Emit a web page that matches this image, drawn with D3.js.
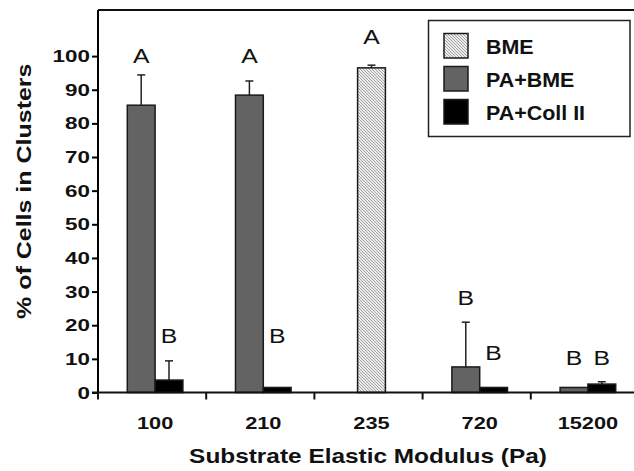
<!DOCTYPE html>
<html>
<head>
<meta charset="utf-8">
<script src="https://cdn.jsdelivr.net/npm/d3@7"></script>
<style>
  body { margin: 0; background: #fff; }
  svg { display: block; font-family: Arial, "Liberation Sans", sans-serif; }
</style>
</head>
<body>
<svg id="chart" width="634" height="471"></svg>
<script>
// ------------ DATA -----------------

const categories = ["100", "210", "235", "720", "15200"];
const seriesNames = ["BME", "PA+BME", "PA+Coll II"];

// null = no bar for that substrate
const bmeValues    = [null, null, 96.5, null, null];
const bmeErrors    = [null, null, 0.8, null, null];
const paBmeValues  = [85.4, 88.4, null, 7.6, 1.5];
const paBmeErrors  = [9.0, 4.2, null, 13.3, 0];
const paCollValues = [3.7, 1.5, null, 1.5, 2.5];
const paCollErrors = [5.7, 0, null, 0, 0.7];

// significance letters: [category, series, letter, y position in % units]
const letters = [
  ["100", "PA+BME", "A", 97.9],
  ["210", "PA+BME", "A", 97.9],
  ["235", "BME", "A", 103.6],
  ["100", "PA+Coll II", "B", 14.7],
  ["210", "PA+Coll II", "B", 14.7],
  ["720", "PA+BME", "B", 26.0],
  ["720", "PA+Coll II", "B", 9.7],
  ["15200", "PA+BME", "B", 8.2],
  ["15200", "PA+Coll II", "B", 8.2],
];

const yTicks = [0, 10, 20, 30, 40, 50, 60, 70, 80, 90, 100];

// ------------ SETUP -----------------

const svg = d3.select("#chart");

const plotLeft = 98, plotRight = 639, plotTop = 10, plotBottom = 392.5;

const x = d3.scaleBand().domain(categories).range([plotLeft, plotRight]);
const y = d3.scaleLinear().domain([0, 113.7]).range([plotBottom, plotTop]);

const barW = x.step() * 0.257;
const groupShift = 3;

const fills = { "BME": "url(#hatch)", "PA+BME": "#636363", "PA+Coll II": "#000" };

const defs = svg.append("defs");
const pat = defs.append("pattern")
  .attr("id", "hatch")
  .attr("patternUnits", "userSpaceOnUse")
  .attr("width", 3).attr("height", 3);
pat.append("rect").attr("width", 3).attr("height", 3).attr("fill", "#ececec");
pat.append("path").attr("d", "M-1,-1 L4,4 M-1,2 L1,4 M2,-1 L4,1")
  .attr("stroke", "#9a9a9a").attr("stroke-width", 0.9);

// the original font is wide, so text gets stretched along its baseline
function addText(parent, str, px, py, opts = {}) {
  const sx = opts.sx ?? 1.2;
  const rot = opts.rotate ? ` rotate(${opts.rotate})` : "";
  return parent.append("text")
    .attr("transform", `translate(${px},${py})${rot} scale(${sx},1)`)
    .attr("text-anchor", opts.anchor ?? "middle")
    .attr("font-size", opts.size ?? 18)
    .attr("font-weight", opts.weight ?? "bold")
    .attr("fill", "#111")
    .text(str);
}

// build bar records, only series that have a value in each category
const valueTable = { "BME": bmeValues, "PA+BME": paBmeValues, "PA+Coll II": paCollValues };
const errorTable = { "BME": bmeErrors, "PA+BME": paBmeErrors, "PA+Coll II": paCollErrors };

let bars = [];
categories.forEach((cat, i) => {
  const present = seriesNames.filter(s => valueTable[s][i] != null);
  const center = x(cat) + x.bandwidth() / 2 + groupShift;
  const x0 = center - present.length * barW / 2;
  present.forEach((s, j) => {
    bars.push({
      cat, series: s,
      value: valueTable[s][i],
      err: errorTable[s][i],
      x: x0 + j * barW
    });
  });
});

// ------------ DRAWING -----------------

// frame top line
svg.append("line")
  .attr("x1", plotLeft).attr("x2", 634)
  .attr("y1", plotTop).attr("y2", plotTop)
  .attr("stroke", "#111").attr("stroke-width", 2);

// error bars (drawn under bars)
const eb = svg.append("g").attr("stroke", "#222").attr("stroke-width", 1.5);
bars.filter(d => d.err > 0).forEach(d => {
  const cx = d.x + barW / 2;
  eb.append("line")
    .attr("x1", cx).attr("x2", cx)
    .attr("y1", y(d.value)).attr("y2", y(d.value + d.err));
  eb.append("line")
    .attr("x1", cx - 4).attr("x2", cx + 4)
    .attr("y1", y(d.value + d.err)).attr("y2", y(d.value + d.err));
});

svg.append("g").selectAll("rect")
  .data(bars)
  .join("rect")
  .attr("x", d => d.x)
  .attr("y", d => y(d.value))
  .attr("width", barW)
  .attr("height", d => y(0) - y(d.value))
  .attr("fill", d => fills[d.series])
  .attr("stroke", "#1a1a1a")
  .attr("stroke-width", 1.5);

// letters
const letterG = svg.append("g");
letters.forEach(d => {
  const b = bars.find(b => b.cat === d[0] && b.series === d[1]);
  addText(letterG, d[2], b.x + barW / 2, y(d[3]), { size: 21, weight: "normal", sx: 1.18 });
});

// y axis
const yAxis = svg.append("g")
  .attr("transform", `translate(${plotLeft},0)`)
  .call(d3.axisLeft(y).tickValues(yTicks).tickSize(6).tickFormat(""));
yAxis.select(".domain").attr("d", `M0,${plotBottom}V${plotTop}`).attr("stroke-width", 2);
yAxis.selectAll(".tick line").attr("stroke-width", 2);
yTicks.forEach(t => {
  addText(yAxis, t, -8, y(t) + 6, { anchor: "end", size: 17, sx: 1.32 });
});

// x axis: ticks at category boundaries
const xAxis = svg.append("g").attr("transform", `translate(0,${plotBottom})`);
xAxis.append("line").attr("x1", plotLeft - 6).attr("x2", 634)
  .attr("stroke", "#111").attr("stroke-width", 2);
xAxis.selectAll(".xt")
  .data(categories)
  .join("line")
  .attr("x1", d => x(d)).attr("x2", d => x(d))
  .attr("y1", 0).attr("y2", 7)
  .attr("stroke", "#111").attr("stroke-width", 2);
categories.forEach(c => {
  addText(xAxis, c, x(c) + x.bandwidth() / 2 + groupShift, 36, { size: 17, sx: 1.28 });
});

// axis titles
addText(svg, "Substrate Elastic Modulus (Pa)", 368, 463, { size: 20, sx: 1.22 });
addText(svg, "% of Cells in Clusters", 31, (plotTop + plotBottom) / 2 - 10,
  { size: 20, sx: 1.25, rotate: -90 });

// ------------ LEGEND -----------------

const legend = svg.append("g");
legend.append("rect")
  .attr("x", 428.5).attr("y", 20.5).attr("width", 201.5).attr("height", 116)
  .attr("fill", "#fff").attr("stroke", "#222").attr("stroke-width", 1.5);

seriesNames.forEach((s, i) => {
  const gy = 33.5 + i * 33;
  legend.append("rect")
    .attr("x", 444).attr("y", gy).attr("width", 24).attr("height", 24.5)
    .attr("fill", fills[s]).attr("stroke", "#1a1a1a").attr("stroke-width", 1.5);
  addText(legend, s, 486, gy + 20, { anchor: "start", size: 19.5, sx: 1.1 });
});
</script>
</body>
</html>
